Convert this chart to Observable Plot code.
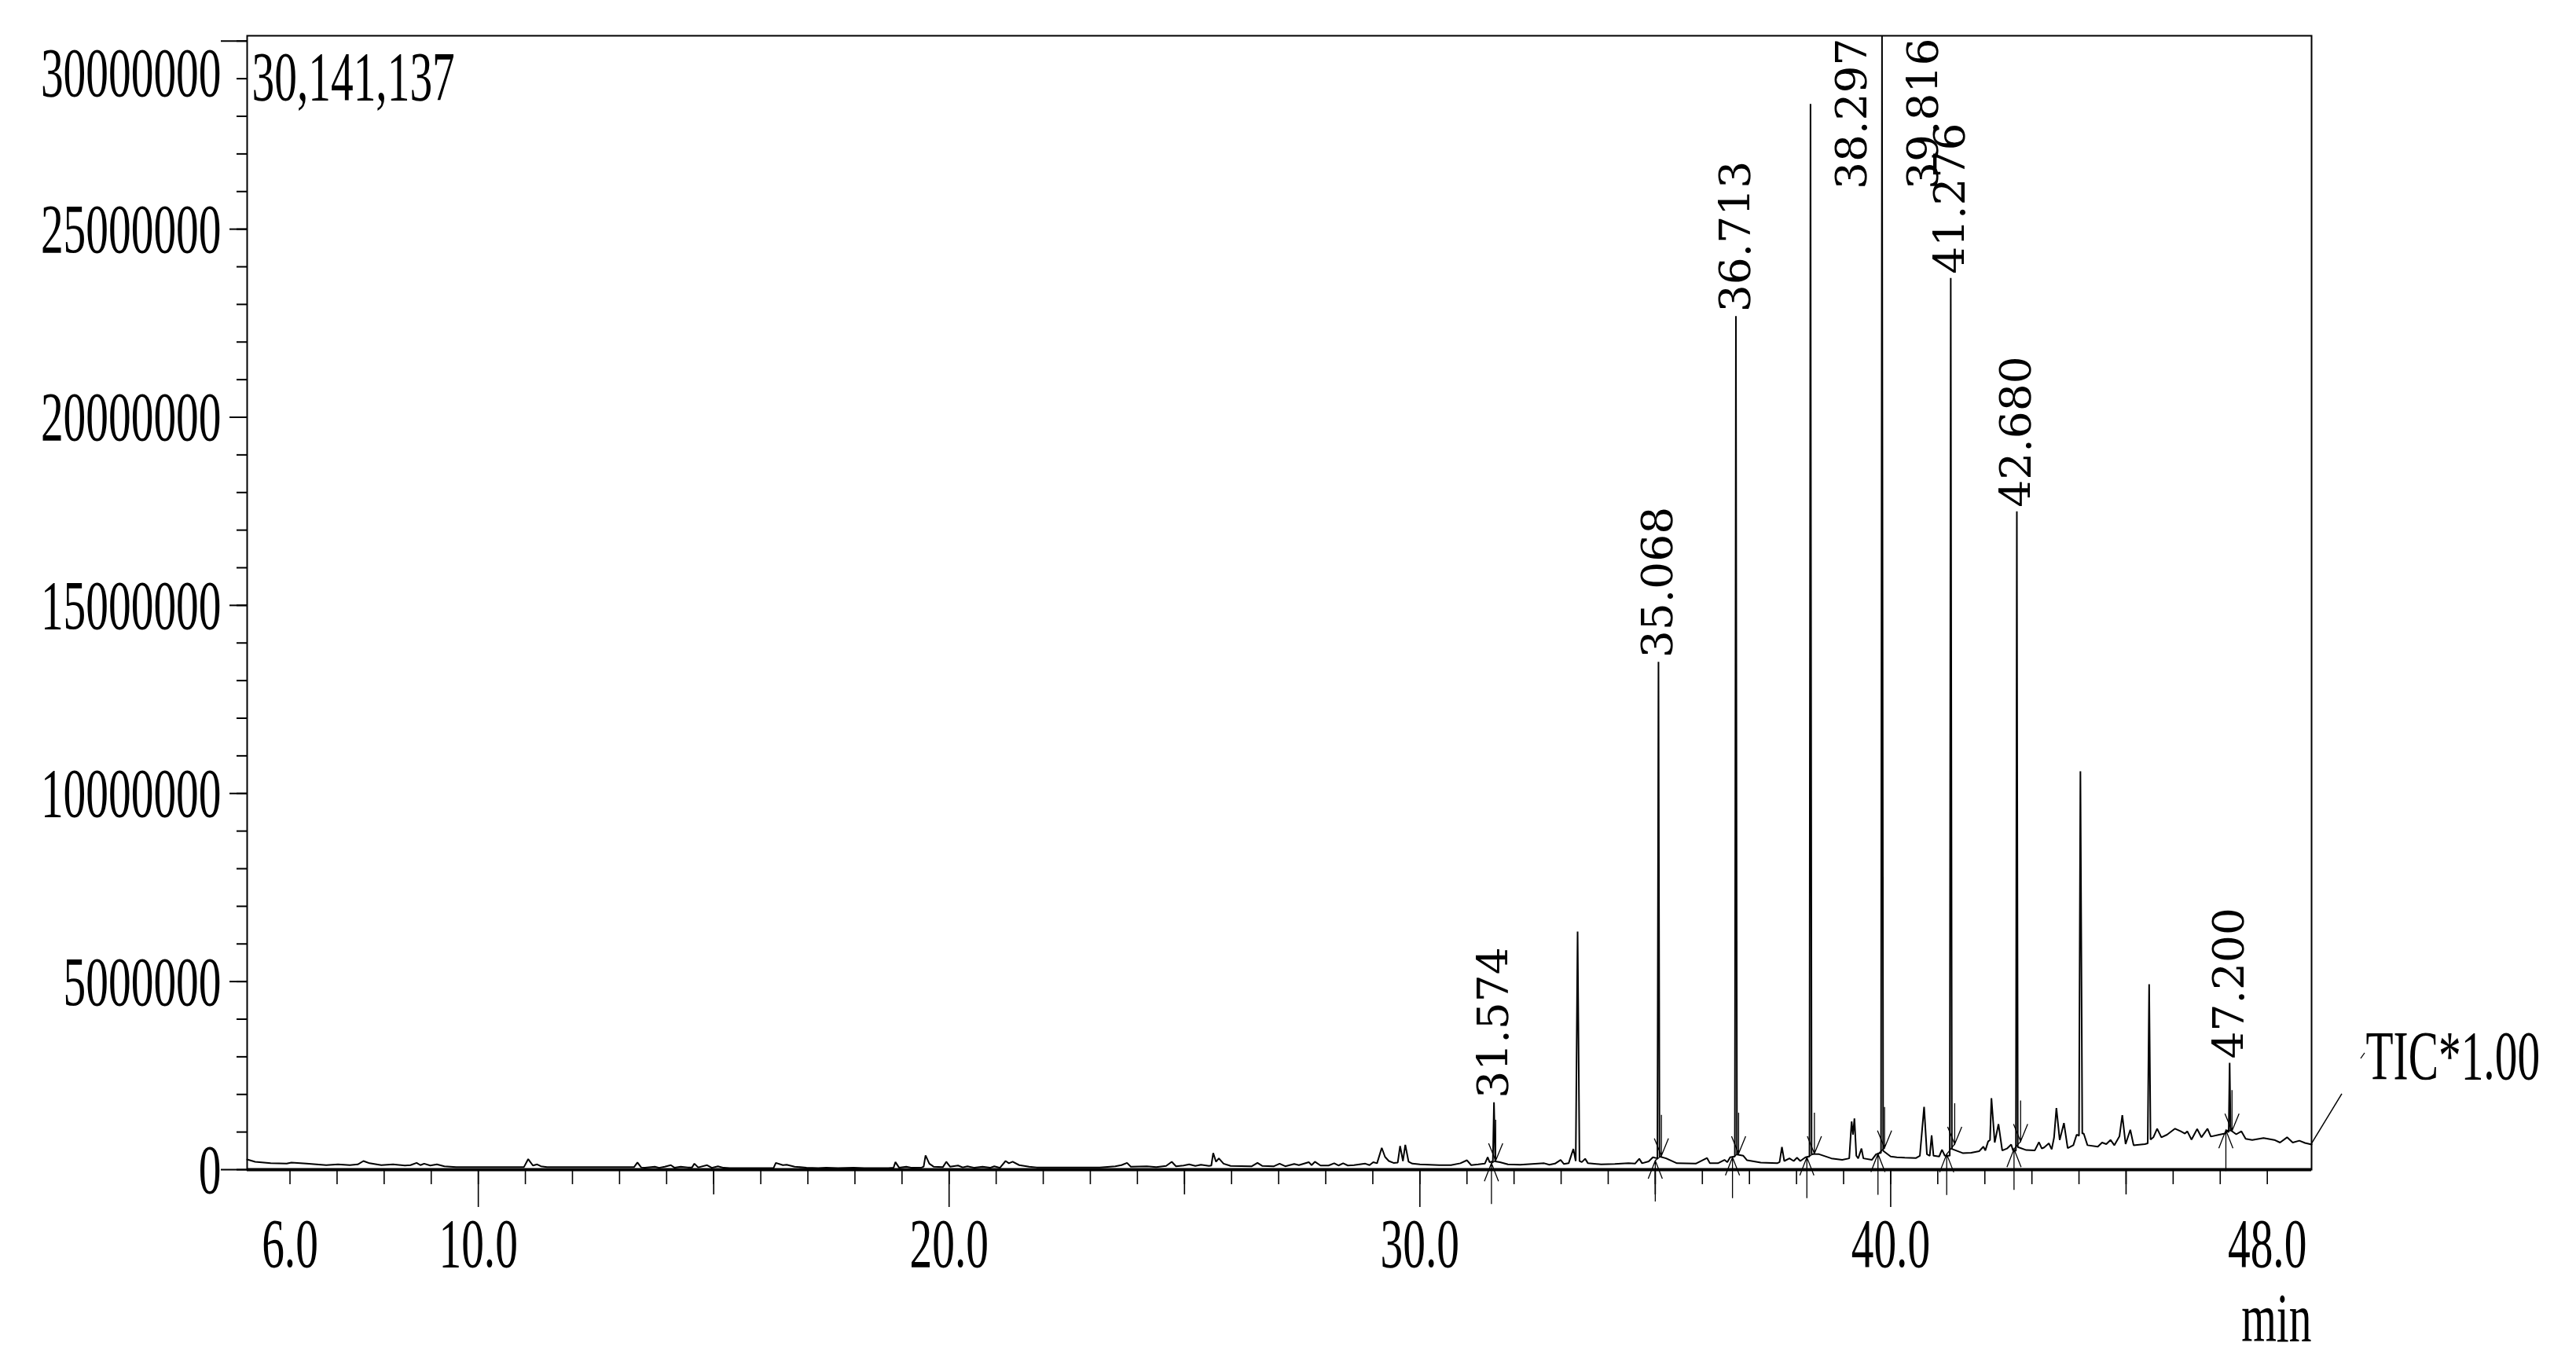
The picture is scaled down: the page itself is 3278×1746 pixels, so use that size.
<!DOCTYPE html>
<html>
<head>
<meta charset="utf-8">
<script src="https://cdn.jsdelivr.net/npm/d3@7"></script>
<script src="https://cdn.jsdelivr.net/npm/@observablehq/plot@0.6"></script>
<style>
html, body { margin: 0; padding: 0; background: #fff; }
#chart svg { display: block; }
</style>
</head>
<body>
<div id="chart"></div>
<script>
// ---- Data (retention time in min, intensity in counts) ----
const traceEarly = [
 [5.09,270000],[5.26,210000],[5.59,170000],[5.93,160000],[6.03,190000],[6.35,160000],[6.77,120000],[7.02,140000],
 [7.27,120000],[7.44,140000],[7.56,230000],[7.69,170000],[7.94,120000],[8.19,140000],[8.44,110000],[8.56,120000],
 [8.69,180000],[8.77,120000],[8.85,160000],[8.98,110000],[9.12,140000],[9.28,90000],[9.53,70000],[10.97,70000],
 [11.06,280000],[11.16,110000],[11.25,140000],[11.33,90000],[11.46,70000],[12.96,70000],[13.31,70000],[13.38,190000],
 [13.46,60000],[13.54,50000],[13.75,80000],[13.84,50000],[13.96,80000],[14.09,120000],[14.17,50000],[14.30,80000],
 [14.45,60000],[14.54,60000],[14.59,160000],[14.67,60000],[14.86,120000],[14.96,50000],[15.09,90000],[15.21,50000],
 [15.34,40000],[16.27,40000],[16.32,180000],[16.47,120000],[16.55,130000],[16.72,80000],[16.97,50000],[17.22,40000],
 [17.39,50000],[17.64,40000],[17.97,50000]
];
const traceMiddle = [
 [18.2,40000],[18.71,40000],[18.82,50000],[18.86,200000],[18.94,50000],[19.09,80000],[19.21,50000],[19.42,60000],
 [19.46,80000],[19.5,380000],[19.58,160000],[19.67,80000],[19.87,70000],[19.94,210000],[20.02,80000],[20.19,110000],
 [20.29,60000],[20.39,90000],[20.54,50000],[20.71,80000],[20.87,50000],[20.96,90000],[21.08,50000],[21.2,230000],
 [21.27,170000],[21.35,210000],[21.49,120000],[21.70,80000],[21.86,60000],[23.2,60000],[23.53,90000],[23.66,120000],
 [23.78,180000],[23.86,80000],[24.2,90000],[24.4,70000],[24.61,100000],[24.73,210000],[24.82,90000],[24.98,110000],
 [25.1,140000],[25.23,100000],[25.35,130000],[25.52,100000],[25.57,110000],[25.61,440000],[25.67,210000],[25.73,300000],
 [25.83,160000],[25.98,100000],[26.43,90000],[26.55,180000],[26.65,100000],[26.9,90000],[27.02,160000],[27.14,90000],
 [27.33,150000],[27.43,120000],[27.64,200000],[27.70,120000],[27.77,210000],[27.89,110000],[28.06,110000],[28.18,170000],
 [28.27,110000],[28.37,170000],[28.47,110000],[28.6,120000],[28.84,160000],[28.93,120000],[29.01,200000],[29.09,170000],
 [29.19,580000],[29.26,340000],[29.34,230000],[29.44,180000],[29.53,190000],[29.58,630000],[29.64,230000],[29.69,660000],
 [29.76,210000],[29.84,160000],[30.0,140000],[30.41,120000],[30.66,120000],[30.86,170000],[31.0,250000],[31.09,120000]
];
const traceLate = [
 [31.24,140000],[31.38,160000],[31.44,330000],[31.48,200000],[31.55,220000],[31.574,1790000],[31.6,220000],[31.70,200000],
 [31.87,140000],[32.13,130000],[32.64,170000],[32.75,130000],[32.87,160000],[32.99,260000],[33.06,150000],[33.16,170000],
 [33.26,550000],[33.31,230000],[33.35,6330000],[33.39,230000],[33.44,200000],[33.51,290000],[33.57,170000],[33.85,140000],
 [34.14,150000],[34.43,170000],[34.57,160000],[34.66,290000],[34.72,170000],[34.86,220000],[34.95,330000],[35.045,300000],
 [35.068,13500000],[35.09,350000],[35.23,300000],[35.46,170000],[35.86,160000],[36.1,310000],[36.16,170000],[36.33,170000],
 [36.47,260000],[36.53,200000],[36.59,330000],[36.69,350000],[36.713,22690000],[36.735,400000],[36.87,370000],[36.95,250000],
 [37.24,190000],[37.59,170000],[37.64,200000],[37.69,600000],[37.74,230000],[37.85,300000],[37.94,230000],[38.01,320000],
 [38.08,230000],[38.19,330000],[38.275,350000],[38.297,28330000],[38.32,420000],[38.48,410000],[38.74,300000],[38.97,260000],
 [39.12,300000],[39.17,1280000],[39.2,930000],[39.23,1360000],[39.27,370000],[39.31,300000],[39.38,560000],[39.42,300000],
 [39.60,260000],[39.69,410000],[39.795,450000],[39.816,30141137],[39.84,500000],[40.0,350000]
];
const traceEnd = [
 [40.13,330000],[40.30,320000],[40.54,310000],[40.62,370000],[40.71,1670000],[40.77,410000],[40.83,370000],[40.87,910000],
 [40.91,370000],[41.03,350000],[41.09,530000],[41.15,370000],[41.255,370000],[41.276,23700000],[41.30,550000],[41.53,440000],
 [41.71,450000],[41.88,490000],[41.97,610000],[42.01,510000],[42.07,750000],[42.11,790000],[42.14,1900000],[42.21,720000],
 [42.29,1210000],[42.37,510000],[42.47,560000],[42.56,670000],[42.6,510000],[42.66,500000],[42.680,17500000],[42.70,600000],
 [42.88,520000],[43.06,510000],[43.15,730000],[43.21,560000],[43.26,590000],[43.36,700000],[43.42,540000],[43.47,850000],
 [43.52,1640000],[43.59,790000],[43.68,1240000],[43.76,570000],[43.88,650000],[43.95,930000],[44.0,900000],[44.03,10590000],
 [44.07,960000],[44.10,960000],[44.18,650000],[44.40,610000],[44.49,720000],[44.58,680000],[44.67,790000],[44.75,650000],
 [44.86,890000],[44.92,1450000],[44.99,680000],[45.09,1060000],[45.16,650000],[45.40,680000],[45.46,700000],[45.49,4930000],
 [45.52,800000],[45.58,860000],[45.66,1090000],[45.75,860000],[45.87,930000],[46.04,1090000],[46.16,1020000],[46.25,960000],
 [46.30,1020000],[46.39,800000],[46.51,1080000],[46.60,860000],[46.73,1090000],[46.80,880000],[46.98,930000],[47.10,960000],
 [47.14,1020000],[47.18,1000000],[47.2,2840000],[47.22,1050000],[47.34,940000],[47.45,1020000],[47.54,820000],[47.68,790000],
 [47.92,840000],[48.15,790000],[48.27,720000],[48.42,860000],[48.54,720000],[48.68,770000],[48.8,710000],[48.94,670000]
];

// labelled peaks
const peakRT     = [31.574, 35.068, 36.713, 38.297, 39.816, 41.276, 42.680, 47.200];
const peakHeight = [1790000, 13500000, 22690000, 28330000, 30141137, 23700000, 17500000, 2840000];
// integration start / end points of each labelled peak
const peakStartRT  = [31.52, 35.00, 36.64, 38.22, 39.73, 41.19, 42.62, 47.12];
const peakStartInt = [170000, 240000, 330000, 330000, 420000, 410000, 550000, 1050000];
const peakEndRT    = [31.61, 35.13, 36.77, 38.38, 39.87, 41.36, 42.76, 47.25];
const peakEndInt   = [240000, 370000, 430000, 430000, 580000, 680000, 750000, 1030000];

// axes
const maxIntensity = 30141137;
const yLabelValues = [0, 5000000, 10000000, 15000000, 20000000, 25000000, 30000000];
const xLabelValues = [6, 10, 20, 30, 40, 48];
const xDomain = [5.09, 48.94];

// ---- build tables ----
const trace = [...traceEarly, ...traceMiddle, ...traceLate, ...traceEnd];
const peaks = peakRT.map((rt, i) => ({rt, height: peakHeight[i], label: rt.toFixed(3)}));
const starts = peakStartRT.map((t, i) => ({t, v: peakStartInt[i]}));
const ends = peakEndRT.map((t, i) => ({t, v: peakEndInt[i]}));
const integ = starts.map((s, i) => ({x1: s.t, y1: s.v, x2: ends[i].t, y2: ends[i].v}));

const yMinorTicks = d3.range(0, 31000000, 1000000);
const yMajorMid = yLabelValues.filter(v => v > 0 && v < 30000000);
const yMajorEnds = [0, 30000000];
const xMinorTicks = d3.range(6, 49, 1);
const xMidTicks = [15, 25, 35, 45];
const xMajorTicks = [10, 20, 30, 40];

const upArrow = {draw(ctx) { ctx.moveTo(0, 0); ctx.lineTo(0, 52); ctx.moveTo(-9, 23); ctx.lineTo(0, 0); ctx.lineTo(9, 23); }};
const downArrow = {draw(ctx) { ctx.moveTo(0, 0); ctx.lineTo(0, -52); ctx.moveTo(-9, -22); ctx.lineTo(0, 0); ctx.lineTo(9, -22); }};

const serif = "Liberation Serif, Times New Roman, serif";
const peakFont = "DejaVu Serif, serif";
const big = 89;

const chart = Plot.plot({
  width: 3278,
  height: 1746,
  marginLeft: 314,
  marginRight: 337,
  marginTop: 45,
  marginBottom: 258,
  style: {background: "#fff", color: "#000", overflow: "visible"},
  x: {domain: xDomain, axis: null},
  y: {domain: [0, maxIntensity], axis: null},
  marks: [
    Plot.frame({stroke: "#000", strokeWidth: 2}),
    Plot.ruleY([0], {stroke: "#000", strokeWidth: 4}),
    // y ticks
    Plot.axisY(yMinorTicks, {anchor: "left", tickSize: 13, tickFormat: () => "", label: null, strokeWidth: 2}),
    Plot.axisY(yMajorMid, {anchor: "left", tickSize: 22, tickFormat: () => "", label: null, strokeWidth: 2}),
    Plot.axisY(yMajorEnds, {anchor: "left", tickSize: 33, tickFormat: () => "", label: null, strokeWidth: 2}),
    // x ticks
    Plot.axisX(xMinorTicks, {anchor: "bottom", tickSize: 19, tickFormat: () => "", label: null, strokeWidth: 1.6}),
    Plot.axisX(xMidTicks, {anchor: "bottom", tickSize: 32, tickFormat: () => "", label: null, strokeWidth: 1.6}),
    Plot.axisX(xMajorTicks, {anchor: "bottom", tickSize: 48, tickFormat: () => "", label: null, strokeWidth: 1.6}),
    // y labels
    Plot.text(yLabelValues.filter(v => v < 30000000), {y: d => d, text: d => d.toFixed(0), frameAnchor: "left", dx: -33, dy: 1,
      textAnchor: "end", lineAnchor: "middle", fontSize: big, fontFamily: serif, fill: "#000"}),
    Plot.text(yLabelValues.filter(v => v >= 30000000), {y: d => d, text: d => d.toFixed(0), frameAnchor: "left", dx: -33, dy: 41,
      textAnchor: "end", lineAnchor: "middle", fontSize: big, fontFamily: serif, fill: "#000"}),
    // x labels
    Plot.text(xLabelValues, {x: d => d, text: d => d.toFixed(1), frameAnchor: "bottom", dy: 95,
      textAnchor: "middle", lineAnchor: "middle", fontSize: big, fontFamily: serif, fill: "#000"}),
    Plot.text(["min"], {frameAnchor: "bottom-right", dx: 0, dy: 190, textAnchor: "end", lineAnchor: "middle",
      fontSize: big, fontFamily: serif, fill: "#000"}),
    // max intensity annotation
    Plot.text([maxIntensity], {text: d => d3.format(",")(d), frameAnchor: "top-left", dx: 6, dy: 53, textAnchor: "start",
      lineAnchor: "middle", fontSize: big, fontFamily: serif, fill: "#000"}),
    Plot.text(["TIC*1.00"], {frameAnchor: "bottom-right", dx: 69, dy: -144, textAnchor: "start", lineAnchor: "middle",
      fontSize: big, fontFamily: serif, fill: "#000"}),
    // integration markers
    Plot.link(integ, {x1: "x1", y1: "y1", x2: "x2", y2: "y2", stroke: "#000", strokeWidth: 1.3}),
    Plot.dot(starts, {x: "t", y: "v", symbol: upArrow, r: 5, fill: "none", stroke: "#000", strokeWidth: 1.3}),
    Plot.dot(ends, {x: "t", y: "v", symbol: downArrow, r: 5, fill: "none", stroke: "#000", strokeWidth: 1.3}),
    // chromatogram
    Plot.line(trace, {x: d => d[0], y: d => d[1], stroke: "#000", strokeWidth: 2, strokeLinejoin: "miter"}),
    // peak labels
    Plot.text(peaks.filter(p => p.height < 25000000), {x: "rt", y: "height", text: "label", rotate: -90, textAnchor: "start",
      lineAnchor: "middle", dy: -5, fontSize: 55, fontFamily: peakFont, fill: "#000", letterSpacing: 4}),
    Plot.text(peaks.filter(p => p.height >= 25000000), {x: "rt", text: "label", frameAnchor: "top", rotate: -90, textAnchor: "end",
      lineAnchor: "middle", dx: 53, dy: 3, fontSize: 55, fontFamily: peakFont, fill: "#000", letterSpacing: 4})
  ]
});

document.getElementById("chart").appendChild(chart);

// condensed Times-like lettering for the Liberation Serif texts
chart.querySelectorAll("text").forEach(t => {
  let el = t, fam = "";
  while (el && el !== chart) {
    const f = el.getAttribute && el.getAttribute("font-family");
    if (f) { fam = f; break; }
    el = el.parentNode;
  }
  if (!fam.includes("Liberation")) return;
  const tr = t.getAttribute("transform");
  if (tr) t.setAttribute("transform", tr + " scale(0.645,1)");
  else {
    const x = +(t.getAttribute("x") || 0), y = +(t.getAttribute("y") || 0);
    t.removeAttribute("x"); t.removeAttribute("y");
    t.setAttribute("transform", `translate(${x},${y}) scale(0.645,1)`);
  }
});

// leader line from end of trace to the TIC label
const sx = chart.scale("x"), sy = chart.scale("y");
const last = traceEnd[traceEnd.length - 1];
const x0 = sx.apply(last[0]), y0 = sy.apply(last[1]);
const svg = d3.select(chart);
svg.append("line").attr("x1", x0).attr("y1", y0).attr("x2", x0 + 39).attr("y2", y0 - 64)
  .attr("stroke", "#000").attr("stroke-width", 1.5);
svg.append("line").attr("x1", x0 + 63).attr("y1", y0 - 109).attr("x2", x0 + 68).attr("y2", y0 - 116)
  .attr("stroke", "#000").attr("stroke-width", 1.2);
</script>
</body>
</html>
